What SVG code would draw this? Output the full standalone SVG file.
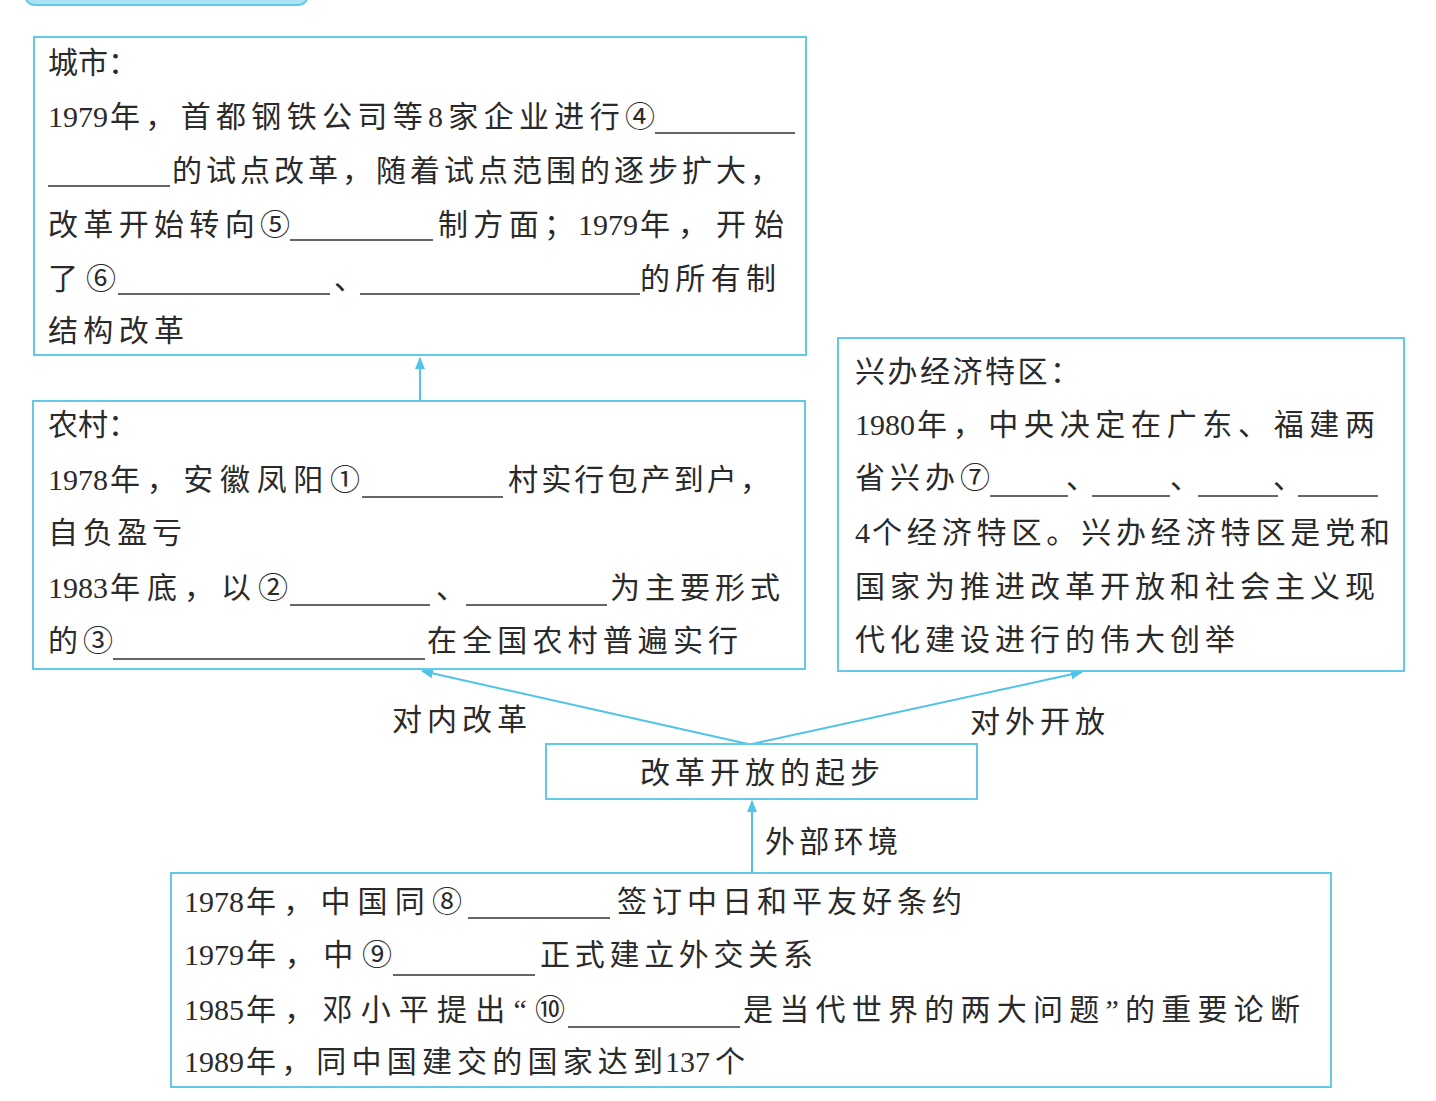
<svg xmlns="http://www.w3.org/2000/svg" width="1436" height="1101" viewBox="0 0 1436 1101">
<defs>
<style>
.box{fill:#fff;stroke:#62c9e6;stroke-width:2}
.t{font-family:"Liberation Serif","Noto Sans CJK SC",serif;font-size:30px;fill:#2a2a2a}
.u{stroke:#333;stroke-width:1.6}
.c{stroke:#4fc3e8;stroke-width:2;fill:none}
</style>
<marker id="ah" viewBox="0 0 12 10" refX="11" refY="5" markerWidth="12" markerHeight="10" markerUnits="userSpaceOnUse" orient="auto">
<path d="M0,0 L12,5 L0,10 Z" fill="#4fc3e8"/>
</marker>
</defs>
<rect width="1436" height="1101" fill="#fff"/>
<rect x="25" y="-20" width="283" height="25" rx="10" fill="#a8e4f4" stroke="#62c9e6" stroke-width="2"/>

<g id="connectors">
<line class="c" x1="420" y1="401" x2="420" y2="358" marker-end="url(#ah)"/>
<line class="c" x1="748" y1="744" x2="422" y2="671" marker-end="url(#ah)"/>
<line class="c" x1="752" y1="744" x2="1082" y2="672" marker-end="url(#ah)"/>
<line class="c" x1="752" y1="873" x2="752" y2="801" marker-end="url(#ah)"/>
<text class="t" x="392" y="730" textLength="135">对内改革</text>
<text class="t" x="970" y="732" textLength="135">对外开放</text>
<text class="t" x="765" y="852" textLength="133">外部环境</text>
</g>

<g id="city">
<rect class="box" x="34" y="37" width="772" height="318"/>
<text class="t" x="48" y="73">城市：</text>
<text class="t" x="48" y="127">1979</text>
<text class="t" x="110" y="127" textLength="545">年，首都钢铁公司等8家企业进行④</text>
<line class="u" x1="655" y1="133" x2="795" y2="133"/>
<line class="u" x1="48" y1="186" x2="170" y2="186"/>
<text class="t" x="172" y="181" textLength="608">的试点改革，随着试点范围的逐步扩大，</text>
<text class="t" x="48" y="235" textLength="242">改革开始转向⑤</text>
<line class="u" x1="290" y1="240" x2="433" y2="240"/>
<text class="t" x="438" y="235" textLength="136">制方面；</text>
<text class="t" x="578" y="235">1979</text>
<text class="t" x="640" y="235" textLength="144">年，开始</text>
<text class="t" x="48" y="289" textLength="68">了⑥</text>
<line class="u" x1="118" y1="294" x2="330" y2="294"/>
<text class="t" x="334" y="289">、</text>
<line class="u" x1="360" y1="294" x2="640" y2="294"/>
<text class="t" x="640" y="289" textLength="136">的所有制</text>
<text class="t" x="48" y="341" textLength="136">结构改革</text>
</g>

<g id="rural">
<rect class="box" x="33" y="401" width="772" height="268"/>
<text class="t" x="48" y="435">农村：</text>
<text class="t" x="48" y="490">1978</text>
<text class="t" x="110" y="490" textLength="250">年，安徽凤阳①</text>
<line class="u" x1="362" y1="497" x2="503" y2="497"/>
<text class="t" x="508" y="490" textLength="262">村实行包产到户，</text>
<text class="t" x="48" y="543" textLength="134">自负盈亏</text>
<text class="t" x="48" y="598">1983</text>
<text class="t" x="110" y="598" textLength="178">年底，以②</text>
<line class="u" x1="290" y1="605" x2="430" y2="605"/>
<text class="t" x="436" y="598">、</text>
<line class="u" x1="466" y1="605" x2="607" y2="605"/>
<text class="t" x="610" y="598" textLength="170">为主要形式</text>
<text class="t" x="48" y="651" textLength="65">的③</text>
<line class="u" x1="113" y1="659" x2="425" y2="659"/>
<text class="t" x="427" y="651" textLength="311">在全国农村普遍实行</text>
</g>

<g id="sez">
<rect class="box" x="838" y="338" width="566" height="333"/>
<text class="t" x="855" y="382" textLength="225">兴办经济特区：</text>
<text class="t" x="855" y="435">1980</text>
<text class="t" x="917" y="435" textLength="458">年，中央决定在广东、福建两</text>
<text class="t" x="855" y="488" textLength="135">省兴办⑦</text>
<line class="u" x1="990" y1="496" x2="1068" y2="496"/>
<text class="t" x="1066" y="488">、</text>
<line class="u" x1="1092" y1="496" x2="1170" y2="496"/>
<text class="t" x="1170" y="488">、</text>
<line class="u" x1="1198" y1="496" x2="1278" y2="496"/>
<text class="t" x="1273" y="488">、</text>
<line class="u" x1="1298" y1="496" x2="1378" y2="496"/>
<text class="t" x="855" y="543">4</text>
<text class="t" x="872" y="543" textLength="518">个经济特区。兴办经济特区是党和</text>
<text class="t" x="855" y="597" textLength="520">国家为推进改革开放和社会主义现</text>
<text class="t" x="855" y="650" textLength="380">代化建设进行的伟大创举</text>
</g>

<g id="center">
<rect class="box" x="546" y="744" width="431" height="55"/>
<text class="t" x="640" y="783" textLength="240">改革开放的起步</text>
</g>

<g id="external">
<rect class="box" x="171" y="873" width="1160" height="214"/>
<text class="t" x="184" y="912">1978</text>
<text class="t" x="246" y="912" textLength="216">年，中国同⑧</text>
<line class="u" x1="468" y1="918" x2="610" y2="918"/>
<text class="t" x="617" y="912" textLength="345">签订中日和平友好条约</text>
<text class="t" x="184" y="965">1979</text>
<text class="t" x="246" y="965" textLength="146">年，中⑨</text>
<line class="u" x1="393" y1="975" x2="535" y2="975"/>
<text class="t" x="540" y="965" textLength="273">正式建立外交关系</text>
<text class="t" x="184" y="1020">1985</text>
<text class="t" x="246" y="1020" textLength="319">年，邓小平提出“⑩</text>
<line class="u" x1="568" y1="1027" x2="740" y2="1027"/>
<text class="t" x="743" y="1020" textLength="557">是当代世界的两大问题”的重要论断</text>
<text class="t" x="184" y="1072">1989</text>
<text class="t" x="246" y="1072" textLength="417">年，同中国建交的国家达到</text>
<text class="t" x="665" y="1072">137</text>
<text class="t" x="715" y="1072">个</text>
</g>
</svg>
